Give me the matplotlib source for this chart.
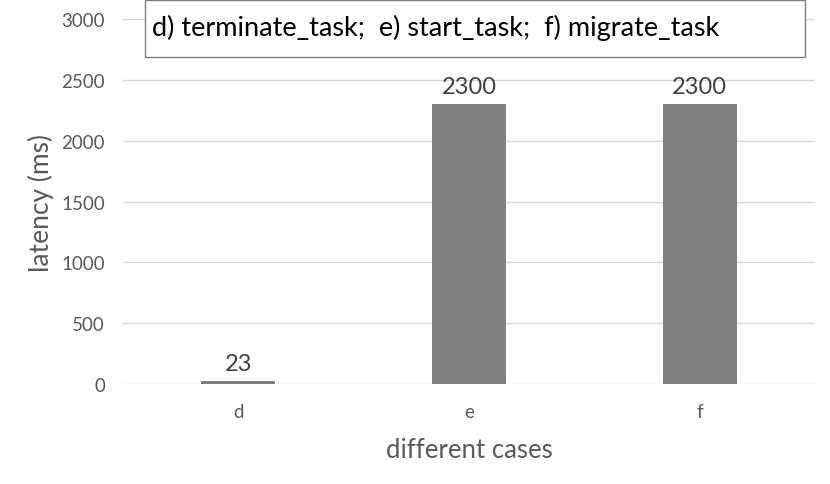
import matplotlib
matplotlib.use("Agg")
import matplotlib.pyplot as plt

# data
cases = ["d", "e", "f"]
latency = [23, 2300, 2300]
yticks = [0, 500, 1000, 1500, 2000, 2500, 3000]
legend_text = "d) terminate_task;  e) start_task;  f) migrate_task"

plt.rcParams['font.family'] = ['Lato', 'DejaVu Sans']

fig = plt.figure(figsize=(8.3, 4.85), dpi=100)
ax = fig.add_axes([123 / 830, 100 / 485, 692 / 830, 365 / 485])

x = list(range(len(cases)))
ax.bar(x, latency, width=0.32, color='#7f7f7f', zorder=3)

for xi, v in zip(x, latency):
    ax.text(xi, v + 60, str(v), ha='center', va='bottom', fontsize=17, color='#404040')

ax.set_xlim(-0.5, 2.5)
ax.set_ylim(0, 3000)
ax.set_yticks(yticks)
ax.set_xticks(x)
ax.set_xticklabels(cases)
ax.grid(axis='y', color='#d9d9d9', linewidth=1, zorder=0)
ax.tick_params(axis='both', length=0, labelsize=13.5, colors='#595959')
ax.tick_params(axis='y', pad=13)
ax.tick_params(axis='x', pad=14)
for s in ax.spines.values():
    s.set_visible(False)

ax.set_xlabel('different cases', fontsize=18.5, color='#595959', labelpad=12)
ax.set_ylabel('latency (ms)', fontsize=19, color='#595959', labelpad=5)

# legend box at top
fig.text(152 / 830, 1 - 28 / 485, legend_text, fontsize=19.5, color='black', va='center', ha='left')
box = plt.Rectangle((145 / 830, 1 - 58 / 485), 660 / 830, 57 / 485, transform=fig.transFigure,
                    facecolor='white', edgecolor='#7f7f7f', linewidth=1, zorder=1)
fig.patches.append(box)

plt.savefig('out.png', dpi=100)
